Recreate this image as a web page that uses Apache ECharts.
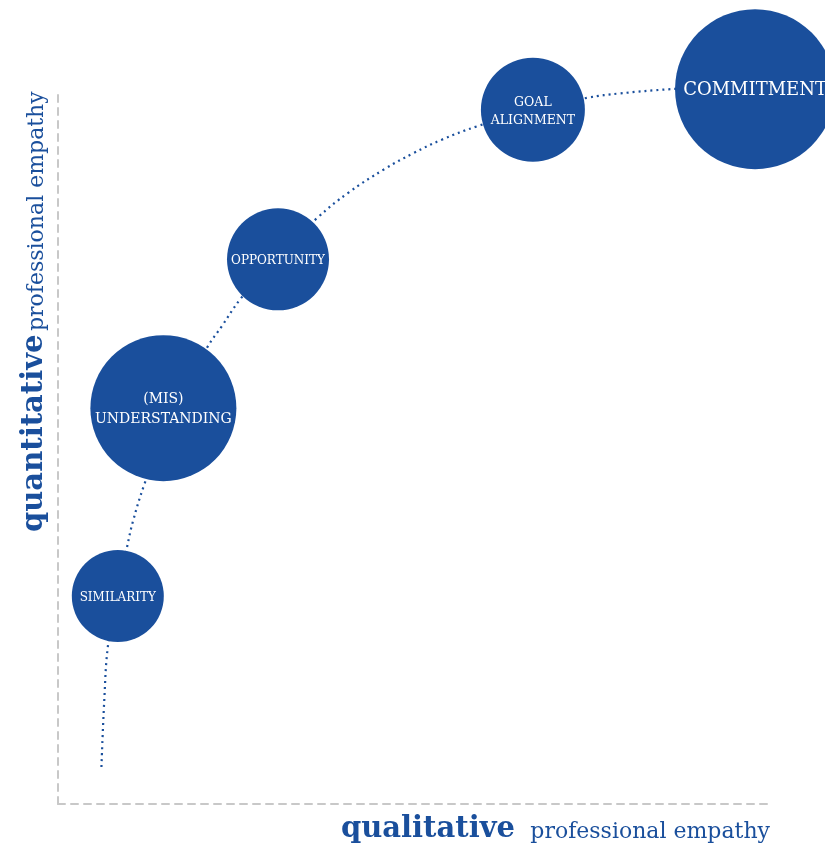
<!DOCTYPE html>
<html>
<head>
<meta charset="utf-8">
<style>
  html, body { margin: 0; padding: 0; background: #fff; }
  #chart { width: 825px; height: 846px; }
</style>
<script src="https://cdn.jsdelivr.net/npm/echarts@6/dist/echarts.min.js"></script>
</head>
<body>
<div id="chart"></div>
<script>
// stages of professional empathy (bubbles)
var stageNames = ['SIMILARITY', '(MIS)\nUNDERSTANDING', 'OPPORTUNITY', 'GOAL\nALIGNMENT', 'COMMITMENT'];
var stageQualitative = [8.4, 14.8, 30.9, 66.7, 97.9];
var stageQuantitative = [29.2, 55.6, 76.5, 97.5, 100.4];
var stageSize = [92, 146, 102, 104, 160];

// dotted path
var pathQualitative = [6.1, 6.5, 7.0, 8.2, 9.7, 10.5, 12.1, 16.0, 21.0, 23.0, 25.6, 30.5, 36.5, 40.7, 45.9, 49.9, 53.9, 58.9, 66.7, 74.4, 78.9, 86.0, 90.2];
var pathQuantitative = [5.2, 14.6, 22.1, 29.1, 36.1, 39.6, 44.8, 55.3, 64.2, 67.1, 70.9, 76.7, 82.4, 85.8, 89.2, 91.4, 93.3, 95.2, 97.6, 99.2, 99.8, 100.4, 100.6];

var axisTitles = { x: ['qualitative', 'professional empathy'], y: ['quantitative', 'professional empathy'] };

(function() {
  var blue = '#1a4f9c';
  var grey = '#c8c8c8';
  var serif = '"DejaVu Serif", serif';
  var labelSize = [12, 14, 12, 12.5, 18];

  var pathData = pathQualitative.map(function(q, i) { return [q, pathQuantitative[i]]; });
  var bubbleData = stageNames.map(function(n, i) {
    return {
      name: n,
      value: [stageQualitative[i], stageQuantitative[i], stageSize[i]],
      label: { fontSize: labelSize[i], lineHeight: Math.round(labelSize[i] * 1.45) }
    };
  });

  var chart = echarts.init(document.getElementById('chart'), null, { renderer: 'canvas' });
  chart.setOption({
    animation: false,
    grid: { left: 58, right: 55, top: 92, bottom: 42 },
    xAxis: {
      type: 'value', min: 0, max: 100,
      axisLine: { show: true, lineStyle: { color: grey, width: 2, type: [7, 6] } },
      axisTick: { show: false }, axisLabel: { show: false }, splitLine: { show: false }
    },
    yAxis: {
      type: 'value', min: 0, max: 100,
      axisLine: { show: true, lineStyle: { color: grey, width: 2, type: [7, 6] } },
      axisTick: { show: false }, axisLabel: { show: false }, splitLine: { show: false }
    },
    series: [
      {
        type: 'line',
        data: pathData,
        smooth: 0.4,
        showSymbol: false,
        clip: false,
        z: 1,
        lineStyle: { color: blue, width: 2.2, type: [2, 4] }
      },
      {
        type: 'scatter',
        data: bubbleData,
        clip: false,
        z: 2,
        symbolSize: function(v) { return v[2]; },
        itemStyle: { color: blue, opacity: 1 },
        label: {
          show: true, position: 'inside', offset: [0, 1.5], color: '#fff', fontFamily: serif,
          formatter: function(p) { return p.name; }
        }
      }
    ],
    graphic: [
      { type: 'text', x: 515, y: 829, style: { text: axisTitles.x[0], fill: blue, font: 'bold 29px ' + serif, align: 'right', verticalAlign: 'middle' } },
      { type: 'text', x: 770, y: 832, style: { text: axisTitles.x[1], fill: blue, font: '22px ' + serif, align: 'right', verticalAlign: 'middle' } },
      { type: 'text', x: 34, y: 532, rotation: Math.PI / 2, style: { text: axisTitles.y[0], fill: blue, font: 'bold 29px ' + serif, align: 'left', verticalAlign: 'middle' } },
      { type: 'text', x: 37, y: 331, rotation: Math.PI / 2, style: { text: axisTitles.y[1], fill: blue, font: '22px ' + serif, align: 'left', verticalAlign: 'middle' } }
    ]
  });
  window.addEventListener('resize', function() { chart.resize(); });
})();
</script>
</body>
</html>
